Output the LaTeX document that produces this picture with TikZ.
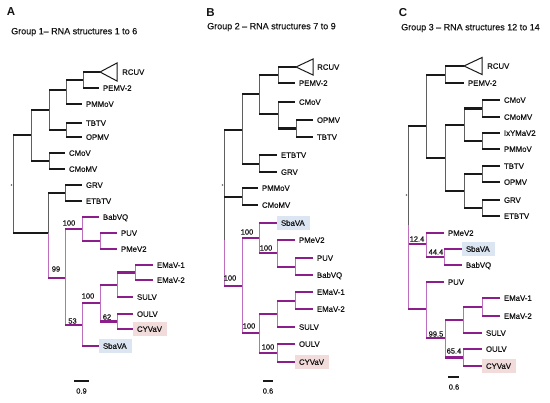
\documentclass[tikz,border=0pt]{standalone}
\usepackage{fontspec}
\setmainfont{Liberation Sans}
\newfontfamily\labfont{Liberation Sans}[FakeBold=0.35]
\usetikzlibrary{backgrounds}
\definecolor{hkc}{RGB}{25,25,25}
\definecolor{vkc}{RGB}{95,95,95}
\definecolor{hpc}{RGB}{140,30,140}
\definecolor{vpc}{RGB}{190,110,190}
\definecolor{txt}{RGB}{20,20,20}
\definecolor{bluebox}{RGB}{220,230,242}
\definecolor{pinkbox}{RGB}{242,220,219}
\newcommand{\ek}[2]{\draw[vk] (#1) -- (#1 |- #2); \draw[hk] (#1 |- #2) -- (#2);}
\newcommand{\ep}[2]{\draw[vp] (#1) -- (#1 |- #2); \draw[hp] (#1 |- #2) -- (#2);}
\newcommand{\leaf}[4]{\coordinate (#1) at (#2,#3); \node[lab] (#1l) at ([xshift=3.8pt]#1) {#4};}
\begin{document}
\begin{tikzpicture}[x=1pt,y=-1pt,
  vk/.style={line width=0.75pt,draw=vkc},
  hk/.style={line width=2.4pt,draw=hkc},
  vp/.style={line width=0.75pt,draw=vpc},
  hp/.style={line width=2.4pt,draw=hpc},
  lab/.style={anchor=west,inner sep=0pt,font=\labfont\fontsize{7.8}{9}\selectfont,text height=5.6pt,text depth=0pt,text=txt},
  boot/.style={inner sep=0pt,font=\labfont\fontsize{7.5}{9}\selectfont,text=txt},
  ttl/.style={anchor=west,inner sep=0pt,font=\labfont\fontsize{9}{11}\selectfont,text height=6.5pt,text depth=0pt,text=txt},
  panlet/.style={inner sep=0pt,font=\bfseries\fontsize{11.5}{13}\selectfont,text=txt},
  tri/.style={line width=1pt,draw=hkc,line join=miter},
  sbar/.style={line width=2.4pt,draw=hkc},
  rdot/.style={circle,fill=vkc,inner sep=0pt,minimum size=1.6pt}]
\useasboundingbox (0,0) rectangle (550,403);
\begin{scope}[on background layer]
\fill[white] (0,0) rectangle (550,403);
\end{scope}

% ---------------- Panel A ----------------
\node[panlet] (aL) at (11,11.5) {A};
\node[ttl] (aT) at (11,31) {Group 1– RNA structures 1 to 6};
\coordinate (ar) at (13,184);
\coordinate (a1) at (31,135);
\coordinate (a11) at (49,110);
\coordinate (a111) at (66,90);
\coordinate (a1111) at (83,80);
\coordinate (aRC) at (100,72);
\leaf{aPE}{99}{88}{PEMV-2}
\leaf{aPM}{82}{104}{PMMoV}
\coordinate (a112) at (66,130);
\leaf{aTB}{82}{123}{TBTV}
\leaf{aOP}{82}{137}{OPMV}
\coordinate (a12) at (49,161);
\leaf{aCM}{65}{153}{CMoV}
\leaf{aCMM}{65}{169}{CMoMV}
\coordinate (a2) at (48,233);
\coordinate (a21) at (65,193);
\leaf{aGR}{82}{185}{GRV}
\leaf{aET}{82}{201}{ETBTV}
\coordinate (ap) at (65,278);
\coordinate (ap1) at (82,229);
\leaf{aBa}{99}{217}{BabVQ}
\coordinate (ap12) at (100,241);
\leaf{aPU}{117}{233}{PUV}
\leaf{aPMe}{117}{249}{PMeV2}
\coordinate (ap2) at (82,325);
\coordinate (ap21) at (100,303);
\leaf{aSb}{99}{346}{SbaVA}
\coordinate (ap211) at (117,285);
\coordinate (ap2111) at (135,272.5);
\leaf{aE1}{153}{265}{EMaV-1}
\leaf{aE2}{153}{280}{EMaV-2}
\leaf{aSU}{133}{297}{SULV}
\coordinate (ap212) at (117,321.5);
\leaf{aOU}{133}{314}{OULV}
\leaf{aCY}{133}{329}{CYVaV}
\ek{ar}{a1} \ek{ar}{a2}
\ek{a1}{a11} \ek{a1}{a12}
\ek{a11}{a111} \ek{a11}{a112}
\ek{a111}{a1111} \ek{a111}{aPM}
\ek{a1111}{aRC} \ek{a1111}{aPE}
\ek{a112}{aTB} \ek{a112}{aOP}
\ek{a12}{aCM} \ek{a12}{aCMM}
\ek{a2}{a21} \ep{a2}{ap}
\ek{a21}{aGR} \ek{a21}{aET}
\ep{ap}{ap1} \ep{ap}{ap2}
\ep{ap1}{aBa} \ep{ap1}{ap12}
\ep{ap12}{aPU} \ep{ap12}{aPMe}
\ep{ap2}{ap21} \ep{ap2}{aSb}
\ep{ap21}{ap211} \ep{ap21}{ap212}
\ep{ap211}{ap2111} \ep{ap211}{aSU}
\ep{ap2111}{aE1} \ep{ap2111}{aE2}
\ep{ap212}{aOU} \ep{ap212}{aCY}
\draw[tri] (aRC) -- ++(17,-9) -- ++(0,18) -- cycle;
\node[lab] (aRCl) at ([xshift=22pt]aRC) {RCUV};
\node[rdot] (aD) at (11.5,185) {};
\node[boot] (ab1) at (56,269) {99};
\node[boot] (ab2) at (69,223) {100};
\node[boot] (ab3) at (72.5,321) {53};
\node[boot] (ab4) at (88,296) {100};
\node[boot] (ab5) at (107,317) {62};
\coordinate (asb1) at (74,381);
\coordinate (asb2) at (89,381);
\draw[sbar] (asb1) -- (asb2);
\node[boot] (asbl) at (81.5,391) {0.9};

% ---------------- Panel B ----------------
\node[panlet] (bL) at (210.5,13) {B};
\node[ttl] (bT) at (207,26) {Group 2 – RNA structures 7 to 9};
\coordinate (br) at (224,240);
\coordinate (b1) at (242,130);
\coordinate (b11) at (259,94);
\coordinate (b111) at (278,75);
\coordinate (bRC) at (296,67);
\leaf{bPE}{295}{83}{PEMV-2}
\coordinate (b112) at (278,114);
\leaf{bCM}{295}{102}{CMoV}
\coordinate (b1121) at (296,128.5);
\leaf{bOP}{313}{120}{OPMV}
\leaf{bTB}{313}{137}{TBTV}
\coordinate (b12) at (259,164);
\leaf{bET}{277}{155}{ETBTV}
\leaf{bGR}{277}{172}{GRV}
\coordinate (b2) at (242,197);
\leaf{bPM}{258}{188}{PMMoV}
\leaf{bCMM}{258}{205}{CMoMV}
\coordinate (bq) at (242,286);
\coordinate (bq1) at (259,238);
\leaf{bSb}{277}{223}{SbaVA}
\coordinate (bq12) at (277,253);
\leaf{bPMe}{295}{240}{PMeV2}
\coordinate (bq121) at (295,267);
\leaf{bPU}{313}{258}{PUV}
\leaf{bBa}{313}{275}{BabVQ}
\coordinate (bq2) at (259,333);
\coordinate (bq21) at (277,314);
\coordinate (bq211) at (295,301);
\leaf{bE1}{313}{292}{EMaV-1}
\leaf{bE2}{313}{309}{EMaV-2}
\leaf{bSU}{295}{327}{SULV}
\coordinate (bq22) at (277,353);
\leaf{bOU}{295}{344}{OULV}
\leaf{bCY}{295}{362}{CYVaV}
\ek{br}{b1} \ek{br}{b2} \ep{br}{bq}
\ek{b1}{b11} \ek{b1}{b12}
\ek{b11}{b111} \ek{b11}{b112}
\ek{b111}{bRC} \ek{b111}{bPE}
\ek{b112}{bCM} \ek{b112}{b1121}
\ek{b1121}{bOP} \ek{b1121}{bTB}
\ek{b12}{bET} \ek{b12}{bGR}
\ek{b2}{bPM} \ek{b2}{bCMM}
\ep{bq}{bq1} \ep{bq}{bq2}
\ep{bq1}{bSb} \ep{bq1}{bq12}
\ep{bq12}{bPMe} \ep{bq12}{bq121}
\ep{bq121}{bPU} \ep{bq121}{bBa}
\ep{bq2}{bq21} \ep{bq2}{bq22}
\ep{bq21}{bq211} \ep{bq21}{bSU}
\ep{bq211}{bE1} \ep{bq211}{bE2}
\ep{bq22}{bOU} \ep{bq22}{bCY}
\draw[tri] (bRC) -- ++(17,-8) -- ++(0,16) -- cycle;
\node[lab] (bRCl) at ([xshift=21pt]bRC) {RCUV};
\node[rdot] (bD) at (222.5,185) {};
\node[boot] (bb1) at (247,232) {100};
\node[boot] (bb2) at (266,248) {100};
\node[boot] (bb3) at (230,278) {100};
\node[boot] (bb4) at (249,326) {100};
\node[boot] (bb5) at (268,347) {100};
\coordinate (bsb1) at (263,381);
\coordinate (bsb2) at (273,381);
\draw[sbar] (bsb1) -- (bsb2);
\node[boot] (bsbl) at (268,391) {0.6};

% ---------------- Panel C ----------------
\node[panlet] (cL) at (403,12.5) {C};
\node[ttl] (cT) at (401,27) {Group 3 – RNA structures 12 to 14};
\coordinate (cr) at (408,225);
\coordinate (c1) at (426,126);
\coordinate (c11) at (445,75);
\coordinate (cRC) at (464,66);
\leaf{cPE}{464}{83}{PEMV-2}
\coordinate (c12) at (445,158);
\coordinate (c121) at (464,125);
\coordinate (c1211) at (482,108.5);
\leaf{cCM}{500}{100}{CMoV}
\leaf{cCMM}{500}{117}{CMoMV}
\coordinate (c1212) at (482,141);
\leaf{cIx}{500}{133}{IxYMaV2}
\leaf{cPM}{500}{149}{PMMoV}
\coordinate (c122) at (464,191);
\coordinate (c1221) at (482,174);
\leaf{cTB}{500}{166}{TBTV}
\leaf{cOP}{500}{182}{OPMV}
\coordinate (c1222) at (482,208);
\leaf{cGR}{500}{200}{GRV}
\leaf{cET}{500}{216}{ETBTV}
\coordinate (cra) at (426,244);
\leaf{cPMe}{444}{233}{PMeV2}
\coordinate (cra2) at (444,257);
\leaf{cSb}{462}{249}{SbaVA}
\leaf{cBa}{462}{265}{BabVQ}
\coordinate (crb) at (426,309);
\leaf{cPU}{444}{282}{PUV}
\coordinate (crb2) at (445,338);
\coordinate (crb21) at (463,320);
\coordinate (crb211) at (482,307);
\leaf{cE1}{500}{298}{EMaV-1}
\leaf{cE2}{500}{316}{EMaV-2}
\leaf{cSU}{482}{333}{SULV}
\coordinate (crb22) at (463,357.5);
\leaf{cOU}{482}{349}{OULV}
\leaf{cCY}{482}{366}{CYVaV}
\ek{cr}{c1} \ep{cr}{cra} \ep{cr}{crb}
\ek{c1}{c11} \ek{c1}{c12}
\ek{c11}{cRC} \ek{c11}{cPE}
\ek{c12}{c121} \ek{c12}{c122}
\ek{c121}{c1211} \ek{c121}{c1212}
\ek{c1211}{cCM} \ek{c1211}{cCMM}
\ek{c1212}{cIx} \ek{c1212}{cPM}
\ek{c122}{c1221} \ek{c122}{c1222}
\ek{c1221}{cTB} \ek{c1221}{cOP}
\ek{c1222}{cGR} \ek{c1222}{cET}
\ep{cra}{cPMe} \ep{cra}{cra2}
\ep{cra2}{cSb} \ep{cra2}{cBa}
\ep{crb}{cPU} \ep{crb}{crb2}
\ep{crb2}{crb21} \ep{crb2}{crb22}
\ep{crb21}{crb211} \ep{crb21}{cSU}
\ep{crb211}{cE1} \ep{crb211}{cE2}
\ep{crb22}{cOU} \ep{crb22}{cCY}
\draw[tri] (cRC) -- ++(18,-8.5) -- ++(0,17) -- cycle;
\node[lab] (cRCl) at ([xshift=23pt]cRC) {RCUV};
\node[rdot] (cD) at (406.5,195) {};
\node[boot] (cb1) at (417,239) {12.4};
\node[boot] (cb2) at (436,252) {44.4};
\node[boot] (cb3) at (436,334) {99.5};
\node[boot] (cb4) at (454,351) {65.4};
\coordinate (csb1) at (448,377);
\coordinate (csb2) at (459,377);
\draw[sbar] (csb1) -- (csb2);
\node[boot] (csbl) at (454,387) {0.6};

% ---------------- highlight boxes ----------------
\begin{scope}[on background layer]
\foreach \n in {aSbl,bSbl,cSbl}
  \fill[bluebox] ([xshift=-3.5pt,yshift=-3.7pt]\n.south west) rectangle ([xshift=5pt,yshift=3.7pt]\n.north east);
\foreach \n in {aCYl,bCYl,cCYl}
  \fill[pinkbox] ([xshift=-3.5pt,yshift=-3.7pt]\n.south west) rectangle ([xshift=5pt,yshift=3.7pt]\n.north east);
\end{scope}
\end{tikzpicture}
\end{document}
